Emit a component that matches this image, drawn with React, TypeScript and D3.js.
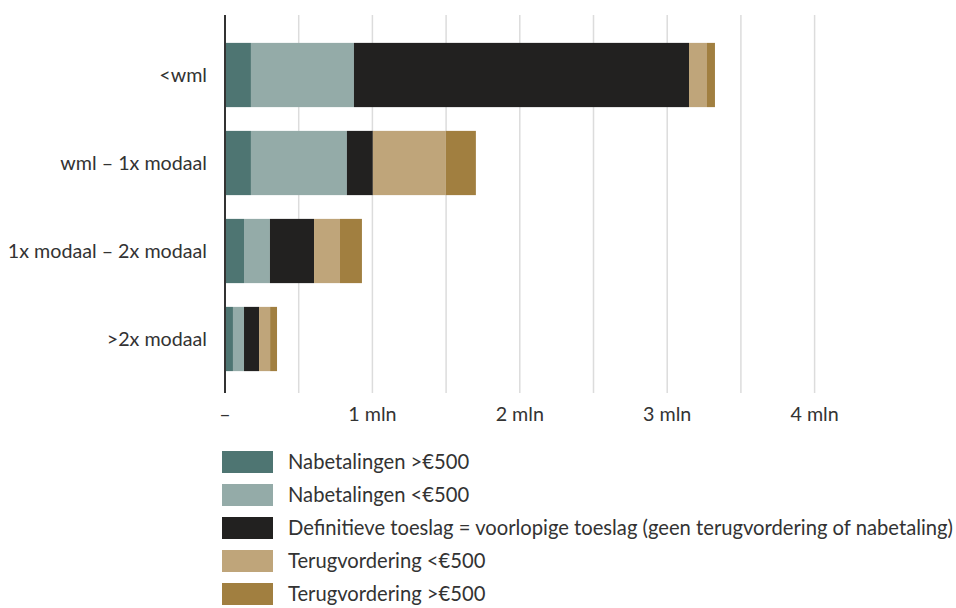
import React, { useEffect, useRef } from 'react'
import * as d3 from 'd3'

// categories and series values (in mln)
const categories = ['<wml', 'wml – 1x modaal', '1x modaal – 2x modaal', '>2x modaal']
const nabetalingenHoog = [0.176, 0.176, 0.129, 0.054]
const nabetalingenLaag = [0.699, 0.651, 0.176, 0.075]
const definitief = [2.273, 0.176, 0.299, 0.102]
const terugvorderingLaag = [0.122, 0.495, 0.176, 0.075]
const terugvorderingHoog = [0.054, 0.204, 0.149, 0.047]

const seriesNames = [
  'Nabetalingen >€500',
  'Nabetalingen <€500',
  'Definitieve toeslag = voorlopige toeslag (geen terugvordering of nabetaling)',
  'Terugvordering <€500',
  'Terugvordering >€500',
]
const colors = ['#4e7572', '#94aba8', '#222120', '#bfa57a', '#a17f40']
const gridTicks = [0.5, 1, 1.5, 2, 2.5, 3, 3.5, 4]
const labelTicks = [0, 1, 2, 3, 4]

const FONT = 'Lato, "Open Sans", sans-serif'

const App = () => {
  const svgRef = useRef<SVGSVGElement>(null)

  useEffect(() => {
    const width = 956
    const height = 608
    const svg = d3.select(svgRef.current).attr('width', width).attr('height', height)
    svg.selectAll('*').remove()

    const plotTop = 15
    const plotBottom = 393

    const xScale = d3.scaleLinear().domain([0, 4.5]).range([225, 225 + 4.5 * 147.4])
    const yScale = d3.scaleBand().domain(categories).range([31, 383]).paddingInner(0.27).paddingOuter(0.135)

    // gridlines
    svg
      .append('g')
      .selectAll('line')
      .data(gridTicks)
      .enter()
      .append('line')
      .attr('x1', (d) => xScale(d))
      .attr('x2', (d) => xScale(d))
      .attr('y1', plotTop)
      .attr('y2', plotBottom)
      .attr('stroke', '#dcdcdc')
      .attr('stroke-width', 1.5)

    // stack data
    const keys = ['a', 'b', 'c', 'd', 'e']
    const all = [nabetalingenHoog, nabetalingenLaag, definitief, terugvorderingLaag, terugvorderingHoog]
    const rows = categories.map((c, i) => {
      const r: any = { name: c }
      keys.forEach((k, j) => (r[k] = all[j][i]))
      return r
    })
    const stacked = d3.stack().keys(keys)(rows)

    svg
      .append('g')
      .selectAll('g')
      .data(stacked)
      .enter()
      .append('g')
      .attr('fill', (d, i) => colors[i])
      .selectAll('rect')
      .data((d) => d)
      .enter()
      .append('rect')
      .attr('x', (d) => xScale(d[0]))
      .attr('width', (d) => xScale(d[1]) - xScale(d[0]))
      .attr('y', (d: any) => yScale(d.data.name))
      .attr('height', yScale.bandwidth())

    // y axis line
    svg
      .append('line')
      .attr('x1', xScale(0))
      .attr('x2', xScale(0))
      .attr('y1', plotTop)
      .attr('y2', plotBottom)
      .attr('stroke', '#333')
      .attr('stroke-width', 2)

    // category labels
    svg
      .append('g')
      .selectAll('text')
      .data(categories)
      .enter()
      .append('text')
      .text((d) => d)
      .attr('x', 207)
      .attr('y', (d) => yScale(d) + yScale.bandwidth() / 2)
      .attr('dy', '0.35em')
      .attr('text-anchor', 'end')
      .style('font-family', FONT)
      .style('font-size', '19.7px')
      .attr('fill', '#333')

    // x tick labels
    svg
      .append('g')
      .selectAll('text')
      .data(labelTicks)
      .enter()
      .append('text')
      .text((d) => (d === 0 ? '–' : `${d} mln`))
      .attr('x', (d) => xScale(d))
      .attr('y', 421)
      .attr('text-anchor', 'middle')
      .style('font-family', FONT)
      .style('font-size', '19.7px')
      .attr('fill', '#333')

    // legend
    const legend = svg
      .append('g')
      .selectAll('g')
      .data(seriesNames)
      .enter()
      .append('g')
      .attr('transform', (d, i) => `translate(222, ${462 + i * 33})`)

    legend
      .append('rect')
      .attr('x', 0)
      .attr('y', -11)
      .attr('width', 51)
      .attr('height', 22)
      .attr('fill', (d, i) => colors[i])

    legend
      .append('text')
      .text((d) => d)
      .attr('x', 66)
      .attr('y', 0)
      .attr('dy', '0.35em')
      .style('font-family', FONT)
      .style('font-size', '20.2px')
      .attr('fill', '#333')
  }, [])

  return <svg ref={svgRef} style={{ position: 'absolute', left: 0, top: 0 }}></svg>
}

export default App
